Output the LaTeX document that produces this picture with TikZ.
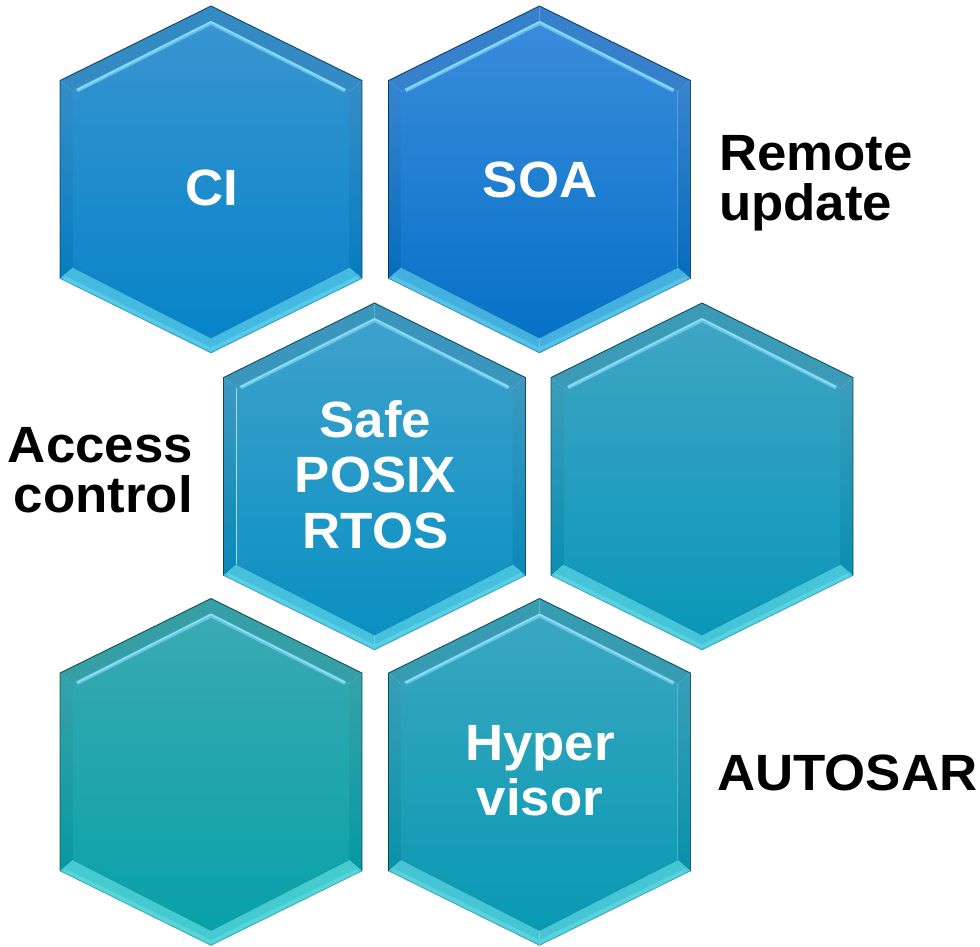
\documentclass[tikz,border=0pt]{standalone}
\usepackage{fontspec}
\setmainfont[FakeStretch=1.035]{Liberation Sans}
\usetikzlibrary{calc}

\definecolor{ciTop}{HTML}{3895D0}   \definecolor{ciBot}{HTML}{0783C9}
\definecolor{soaTop}{HTML}{3B8BDB}  \definecolor{soaBot}{HTML}{0672C7}
\definecolor{rtosTop}{HTML}{3FA1CC} \definecolor{rtosBot}{HTML}{0990C2}
\definecolor{midTop}{HTML}{3FA5C4}  \definecolor{midBot}{HTML}{0A97B9}
\definecolor{lowTop}{HTML}{3AAAB2}  \definecolor{lowBot}{HTML}{08A1A9}
\definecolor{hypTop}{HTML}{3BA7C0}  \definecolor{hypBot}{HTML}{0999B3}
\definecolor{glowCyan}{HTML}{7FD8F8}

\tikzset{
  celltext/.style={text=white, font=\bfseries\fontsize{51}{55.5}\selectfont,
                   align=center, inner sep=0pt},
  sidetext/.style={text=black, font=\bfseries\fontsize{51}{50}\selectfont,
                   inner sep=0pt},
}

% Bevelled hexagon tile: #1,#2 centre, #3 face top colour, #4 face bottom colour
\newcommand\hexcell[4]{%
 \begin{scope}[shift={(#1,#2)}]
  \colorlet{rimTop}{#3!93!black}
  \colorlet{rimLow}{#4!55!white!75!cyan}
  \colorlet{rimGlow}{glowCyan!80!#3}
  % upper bevel faces
  \fill[rimTop] (0,-173.5) -- (-151,-99) -- (-138,-88) -- (0,-158.5) -- cycle;
  \fill[rimTop] (0,-173.5) -- (151,-99) -- (138,-88) -- (0,-158.5) -- cycle;
  % side bevel faces
  \shade[top color=#3!95!black, bottom color=#4!95!black]
     (-151,-99) -- (-151,99) -- (-138,88) -- (-138,-88) -- cycle;
  \shade[top color=#3!95!black, bottom color=#4!95!black]
     (151,-99) -- (151,99) -- (138,88) -- (138,-88) -- cycle;
  % lower bevel faces
  \fill[rimLow!75!#4]
     (-151,99) -- (0,173.5) -- (0,158.5) -- (-138,88) -- cycle;
  \fill[rimLow!75!#4]
     (151,99) -- (0,173.5) -- (0,158.5) -- (138,88) -- cycle;
  \draw[rimLow, line width=3.5pt, opacity=0.9]
     (-147,98) -- (0,170) -- (147,98);
  % main face
  \shade[top color=#3, bottom color=#4]
     (0,-158.5) -- (138,-88) -- (138,88) -- (0,158.5) -- (-138,88) -- (-138,-88) -- cycle;
  % highlight along the inner top edge
  \draw[rimGlow, line width=4pt, line join=round, opacity=0.8]
     (-134,-89) -- (0,-156.5) -- (134,-89);
  \draw[glowCyan!85!white, line width=1.4pt, line join=round]
     (-134,-89.5) -- (0,-157.5) -- (134,-89.5);
  % inner rim below the face
  \draw[#4!85!black, line width=0.8pt, opacity=0.5]
     (-138,88) -- (0,158.5) -- (138,88);
  % outline: dark above, fine dark rule below
  \draw[#4!40!black, line width=0.9pt, line join=round, opacity=0.85]
     (-151,99) -- (-151,-99) -- (0,-173.5) -- (151,-99) -- (151,99);
  \draw[#4!60!black, line width=0.5pt, opacity=0.5]
     (-151,99) -- (0,173.5) -- (151,99);
 \end{scope}}

\begin{document}
\begin{tikzpicture}[x=1pt, y=-1pt]
  \useasboundingbox (0,0) rectangle (980,947);

  % honeycomb tiles
  \hexcell{211}{179.5}{ciTop}{ciBot}
  \hexcell{539.5}{179.5}{soaTop}{soaBot}
  \hexcell{374.5}{476.5}{rtosTop}{rtosBot}
  \hexcell{702}{476.5}{midTop}{midBot}
  \hexcell{211}{772}{lowTop}{lowBot}
  \hexcell{539.5}{772}{hypTop}{hypBot}

  % tile captions
  \node[celltext, anchor=base] (ci)   at (211.7,205) {CI};
  \node[celltext, anchor=base] (soa)  at (540,197) {SOA};
  \node[celltext] (rtos) at (375.5,474.5) {Safe\\POSIX\\RTOS};
  \node[celltext] (hyp)  at (540,770.5) {Hyper\\visor};

  % surrounding labels
  \node[sidetext, align=left, anchor=west]  (remote) at (719,183.5) {Remote\\update};
  \node[sidetext, align=right, anchor=east] (access) at (193,470.7) {Access\\control};
  \node[sidetext, anchor=base west] (autosar) at (717,790) {AUTOSAR};
\end{tikzpicture}
\end{document}
